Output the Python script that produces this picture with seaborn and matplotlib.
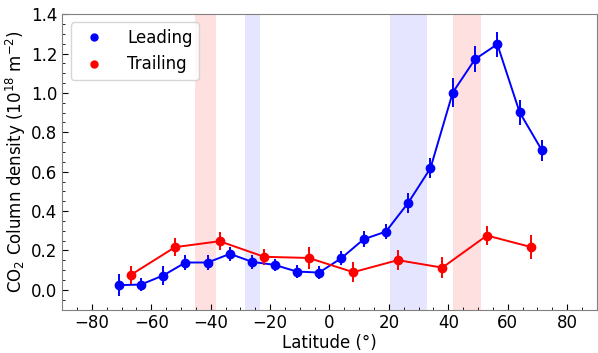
import matplotlib
matplotlib.use("Agg")
import matplotlib.pyplot as plt
import seaborn as sns
import pandas as pd
from matplotlib.ticker import AutoMinorLocator
from matplotlib.lines import Line2D

lead_lat = [-71, -63.5, -56, -48.5, -41, -33.5, -26, -18.5, -11, -3.5, 4, 11.5, 19, 26.5, 34, 41.5, 49, 56.5, 64, 71.5]
lead_val = [0.024, 0.027, 0.073, 0.139, 0.139, 0.183, 0.142, 0.127, 0.093, 0.088, 0.161, 0.257, 0.296, 0.442, 0.618, 1.002, 1.171, 1.247, 0.902, 0.709]
lead_err = [0.057, 0.032, 0.048, 0.040, 0.038, 0.037, 0.036, 0.029, 0.032, 0.034, 0.036, 0.040, 0.040, 0.050, 0.052, 0.073, 0.066, 0.064, 0.063, 0.053]

trail_lat = [-67, -52, -37, -22, -7, 8, 23, 38, 53, 68]
trail_val = [0.075, 0.217, 0.247, 0.168, 0.162, 0.090, 0.151, 0.113, 0.276, 0.217]
trail_err = [0.044, 0.046, 0.047, 0.042, 0.055, 0.050, 0.052, 0.052, 0.047, 0.062]

red_bands = [(-45.3, -38.3), (41.5, 51.0)]
blue_bands = [(-28.6, -23.5), (20.5, 32.9)]

fig = plt.figure(figsize=(5.98, 3.53), dpi=100)
ax = fig.add_axes([0.104, 0.123, 0.894, 0.837])

for a, b in red_bands:
    ax.axvspan(a, b, color="red", alpha=0.12, lw=0)
for a, b in blue_bands:
    ax.axvspan(a, b, color="blue", alpha=0.1, lw=0)

df_l = pd.DataFrame({"lat": lead_lat, "val": lead_val})
df_t = pd.DataFrame({"lat": trail_lat, "val": trail_val})

sns.lineplot(data=df_l, x="lat", y="val", color="blue", lw=1.4, ax=ax, legend=False)
sns.lineplot(data=df_t, x="lat", y="val", color="red", lw=1.4, ax=ax, legend=False)
ax.errorbar(lead_lat, lead_val, yerr=lead_err, fmt="o", color="blue", ms=6, elinewidth=1.4, label="Leading")
ax.errorbar(trail_lat, trail_val, yerr=trail_err, fmt="o", color="red", ms=6, elinewidth=1.4, label="Trailing")

ax.set_xlim(-90, 90)
ax.set_ylim(-0.1, 1.4)
ax.set_xticks([-80, -60, -40, -20, 0, 20, 40, 60, 80])
ax.set_yticks([0.0, 0.2, 0.4, 0.6, 0.8, 1.0, 1.2, 1.4])
ax.xaxis.set_minor_locator(AutoMinorLocator(4))
ax.yaxis.set_minor_locator(AutoMinorLocator(4))
ax.tick_params(which="both", direction="in", labelsize=12)
ax.tick_params(which="major", length=4)
ax.tick_params(which="minor", length=2)
for s in ax.spines.values():
    s.set_color("gray")
ax.set_xlabel("Latitude (°)", fontsize=12, labelpad=1)
ax.set_ylabel("CO$_2$ Column density (10$^{18}$ m$^{-2}$)", fontsize=12, labelpad=2)

handles = [Line2D([], [], marker="o", ls="", color="blue", ms=5),
           Line2D([], [], marker="o", ls="", color="red", ms=5)]
ax.legend(handles, ["Leading", "Trailing"], loc="upper left", fontsize=12, handletextpad=1.0)

fig.savefig("out.png", dpi=100)
